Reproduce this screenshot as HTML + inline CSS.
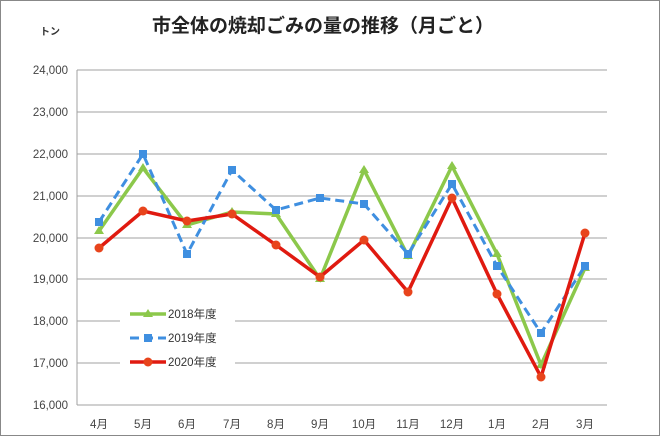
<!DOCTYPE html><html><head><meta charset="utf-8"><style>body{margin:0;background:#fff}</style></head><body>
<svg width="660" height="436" xmlns="http://www.w3.org/2000/svg" font-family="Liberation Sans, Noto Sans CJK JP, sans-serif">
<rect x="0.5" y="0.5" width="659" height="435" fill="#fff" stroke="#888"/>
<text x="323" y="32" font-size="19" font-weight="bold" text-anchor="middle" fill="#222">市全体の焼却ごみの量の推移（月ごと）</text>
<text x="50" y="35" font-size="10" font-weight="bold" text-anchor="middle" fill="#333">トン</text>
<g stroke="#a0a0a0" stroke-width="1">
<line x1="77" y1="70" x2="607" y2="70"/><line x1="77" y1="112" x2="607" y2="112"/><line x1="77" y1="154" x2="607" y2="154"/><line x1="77" y1="196" x2="607" y2="196"/><line x1="77" y1="238" x2="607" y2="238"/><line x1="77" y1="279" x2="607" y2="279"/><line x1="77" y1="321" x2="607" y2="321"/><line x1="77" y1="363" x2="607" y2="363"/><line x1="77" y1="405" x2="607" y2="405"/><line x1="77" y1="70" x2="77" y2="405"/>
</g>
<g font-size="11.5" fill="#444" text-anchor="end">
<text x="68" y="74">24,000</text><text x="68" y="116">23,000</text><text x="68" y="158">22,000</text><text x="68" y="200">21,000</text><text x="68" y="242">20,000</text><text x="68" y="283">19,000</text><text x="68" y="325">18,000</text><text x="68" y="367">17,000</text><text x="68" y="409">16,000</text>
</g>
<g font-size="11.5" fill="#444" text-anchor="middle">
<text x="99" y="428">4月</text><text x="143" y="428">5月</text><text x="187" y="428">6月</text><text x="232" y="428">7月</text><text x="276" y="428">8月</text><text x="320" y="428">9月</text><text x="364" y="428">10月</text><text x="408" y="428">11月</text><text x="452" y="428">12月</text><text x="497" y="428">1月</text><text x="541" y="428">2月</text><text x="585" y="428">3月</text>
</g>
<rect x="120" y="300" width="115" height="72" fill="#fff"/>
<polyline fill="none" stroke="#8cc84b" stroke-width="3.5" points="99,231 143,168 187,225 232,212 276,214 320,279 364,170 408,256 452,166 497,254 541,365 585,268"/>
<g fill="#8cc84b"><path d="M99,226l5,8h-10z"/><path d="M143,163l5,8h-10z"/><path d="M187,220l5,8h-10z"/><path d="M232,207l5,8h-10z"/><path d="M276,209l5,8h-10z"/><path d="M320,274l5,8h-10z"/><path d="M364,165l5,8h-10z"/><path d="M408,251l5,8h-10z"/><path d="M452,161l5,8h-10z"/><path d="M497,249l5,8h-10z"/><path d="M541,360l5,8h-10z"/><path d="M585,263l5,8h-10z"/></g>
<polyline fill="none" stroke="#3f8fe0" stroke-width="3" stroke-dasharray="9,5" points="99,222 143,154 187,254 232,170 276,210 320,198 364,204 408,254 452,184 497,266 541,333 585,266"/>
<g fill="#3f8fe0"><rect x="95" y="218" width="8" height="8"/><rect x="139" y="150" width="8" height="8"/><rect x="183" y="250" width="8" height="8"/><rect x="228" y="166" width="8" height="8"/><rect x="272" y="206" width="8" height="8"/><rect x="316" y="194" width="8" height="8"/><rect x="360" y="200" width="8" height="8"/><rect x="404" y="250" width="8" height="8"/><rect x="448" y="180" width="8" height="8"/><rect x="493" y="262" width="8" height="8"/><rect x="537" y="329" width="8" height="8"/><rect x="581" y="262" width="8" height="8"/></g>
<polyline fill="none" stroke="#e01a10" stroke-width="3.5" points="99,248 143,211 187,221 232,214 276,245 320,277 364,240 408,292 452,198 497,294 541,377 585,233"/>
<g fill="#e8441c"><circle cx="99" cy="248" r="4.5"/><circle cx="143" cy="211" r="4.5"/><circle cx="187" cy="221" r="4.5"/><circle cx="232" cy="214" r="4.5"/><circle cx="276" cy="245" r="4.5"/><circle cx="320" cy="277" r="4.5"/><circle cx="364" cy="240" r="4.5"/><circle cx="408" cy="292" r="4.5"/><circle cx="452" cy="198" r="4.5"/><circle cx="497" cy="294" r="4.5"/><circle cx="541" cy="377" r="4.5"/><circle cx="585" cy="233" r="4.5"/></g>
<line x1="130" y1="314" x2="166" y2="314" stroke="#8cc84b" stroke-width="3.5"/><path d="M148,309l5,8h-10z" fill="#8cc84b"/>
<line x1="130" y1="338" x2="166" y2="338" stroke="#3f8fe0" stroke-width="3" stroke-dasharray="9,5"/><rect x="144" y="334" width="8" height="8" fill="#3f8fe0"/>
<line x1="130" y1="362" x2="166" y2="362" stroke="#e01a10" stroke-width="3.5"/><circle cx="148" cy="362" r="4.5" fill="#e8441c"/>
<g font-size="11.5" fill="#333"><text x="168" y="318">2018年度</text><text x="168" y="342">2019年度</text><text x="168" y="366">2020年度</text></g>
</svg></body></html>
